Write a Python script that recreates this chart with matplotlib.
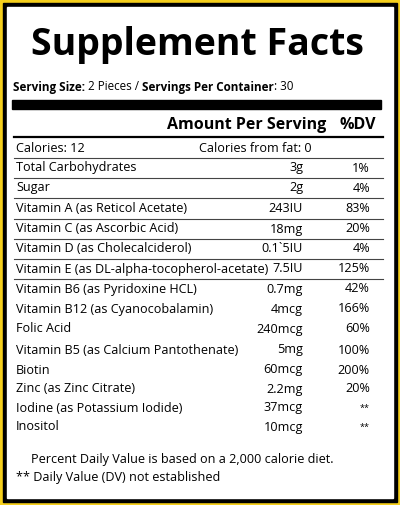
import matplotlib
matplotlib.use("Agg")
import matplotlib.pyplot as plt
from matplotlib.patches import Rectangle

title = "Supplement Facts"
nutrients = ["Total Carbohydrates", "Sugar", "Vitamin A (as Reticol Acetate)",
             "Vitamin C (as Ascorbic Acid)", "Vitamin D (as Cholecalciderol)",
             "Vitamin E (as DL-alpha-tocopherol-acetate)", "Vitamin B6 (as Pyridoxine HCL)",
             "Vitamin B12 (as Cyanocobalamin)", "Folic Acid",
             "Vitamin B5 (as Calcium Pantothenate)", "Biotin", "Zinc (as Zinc Citrate)",
             "Iodine (as Potassium Iodide)", "Inositol"]
amounts = ["3g", "2g", "243IU", "18mg", "0.1`5IU", "7.5IU", "0.7mg", "4mcg",
           "240mcg", "5mg", "60mcg", "2.2mg", "37mcg", "10mcg"]
dv = ["1%", "4%", "83%", "20%", "4%", "125%", "42%", "166%", "60%", "100%",
      "200%", "20%", "**", "**"]
row_y = [168, 188, 208, 229, 249, 269, 289, 309, 329, 350, 370, 389, 408, 427]
serving_parts = [("Serving Size:", True), (" 2 Pieces / ", False),
                 ("Servings Per Container", True), (": 30", False)]
lined_rows = 7

FONT = "Open Sans"
FS = 9.1
fig = plt.figure(figsize=(4.0, 5.05), dpi=100)
ax = fig.add_axes([0, 0, 1, 1])
ax.set_xlim(0, 400); ax.set_ylim(505, 0); ax.axis("off")

ax.add_patch(Rectangle((0, 0), 400, 505, color="#f5cf1c"))
ax.add_patch(Rectangle((3, 3), 394, 499, color="black"))
ax.add_patch(Rectangle((7, 7), 386, 491, color="white"))

ax.text(197, 45, title, ha="center", va="center", fontsize=27, fontweight="bold", family=FONT)

fig.canvas.draw()
r = fig.canvas.get_renderer()
x = 13
for s, b in serving_parts:
    t = ax.text(x, 87, s, ha="left", va="center", fontsize=8.4,
                fontweight="bold" if b else "normal", family=FONT)
    bb = t.get_window_extent(r)
    x += bb.width
ax.add_patch(Rectangle((12, 100), 369, 9, color="black"))
ax.text(326, 125, "Amount Per Serving", ha="right", va="center", fontsize=11.5, fontweight="bold", family=FONT)
ax.text(376, 125, "%DV", ha="right", va="center", fontsize=11.5, fontweight="bold", family=FONT)
ax.plot([14, 383], [136.5, 136.5], color="black", lw=1.6)

ax.text(16, 148, "Calories: 12", ha="left", va="center", fontsize=FS, family=FONT)
ax.text(255, 148, "Calories from fat: 0", ha="center", va="center", fontsize=FS, family=FONT)
for i, (n, a, d, y) in enumerate(zip(nutrients, amounts, dv, row_y)):
    if i < lined_rows:
        ax.plot([14, 383], [y - 10.5, y - 10.5], color="#444444", lw=0.8)
    ax.text(16, y, n, ha="left", va="center", fontsize=FS, family=FONT)
    ax.text(303, y, a, ha="right", va="center", fontsize=FS, family=FONT)
    ax.text(370, y, d, ha="right", va="center", fontsize=FS if d != "**" else 6.5, family=FONT)

ax.text(31, 460, "Percent Daily Value is based on a 2,000 calorie diet.", ha="left", va="center", fontsize=FS, family=FONT)
ax.text(16, 478, "** Daily Value (DV) not established", ha="left", va="center", fontsize=FS, family=FONT)
fig.savefig("out.png", dpi=100)
